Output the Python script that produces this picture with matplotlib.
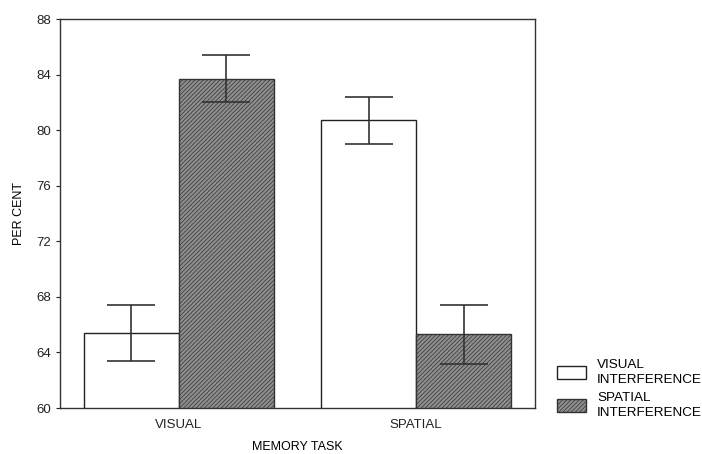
import numpy as np
import matplotlib.pyplot as plt

plt.rcParams['font.family'] = ['Liberation Sans', 'DejaVu Sans']
plt.rcParams['hatch.linewidth'] = 0.5

tasks = ['VISUAL', 'SPATIAL']
visual_interf = [65.4, 80.7]
visual_err = [2.0, 1.7]
spatial_interf = [83.7, 65.3]
spatial_err = [1.7, 2.1]

fig = plt.figure(figsize=(7.02, 4.54), dpi=100)
ax = fig.add_axes([0.0855, 0.1013, 0.6765, 0.8567])

x = np.arange(len(tasks))
w = 0.4
err_kw = dict(ecolor='#333333', elinewidth=1.2, capsize=17, capthick=1.2)

ax.bar(x - w / 2, visual_interf, w, yerr=visual_err, color='white',
       edgecolor='#222222', linewidth=1.0, error_kw=err_kw,
       label='VISUAL\nINTERFERENCE')
plt.rcParams['hatch.color'] = '#7a7a7a'
ax.bar(x + w / 2, spatial_interf, w, yerr=spatial_err, color='#8e8e8e',
       edgecolor='#333333', linewidth=1.0, hatch='////////', error_kw=err_kw,
       label='SPATIAL\nINTERFERENCE')

ax.set_xlim(-0.5, 1.5)
ax.set_ylim(60, 88)
ax.set_yticks(np.arange(60, 89, 4))
ax.set_xticks(x)
ax.set_xticklabels(tasks)
ax.tick_params(labelsize=9.5, length=3, colors='#222222')
ax.tick_params(axis='x', length=0, pad=8)
for s in ax.spines.values():
    s.set_color('#333333')
    s.set_linewidth(1.0)

ax.set_xlabel('MEMORY TASK', fontsize=9, labelpad=7)
ax.set_ylabel('PER CENT', fontsize=9, labelpad=8)

leg = ax.legend(loc='lower left', bbox_to_anchor=(1.02, -0.06), frameon=False,
                fontsize=9.7, handlelength=2.2, handleheight=1.1,
                labelspacing=0.4, handletextpad=0.8)
for t in leg.get_texts():
    t.set_linespacing(1.4)

fig.savefig('out.png', dpi=100)
